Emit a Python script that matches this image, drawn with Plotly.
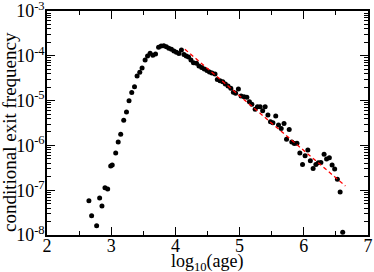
import plotly.graph_objects as go

# log10(age) bin centres
log_age = [2.653, 2.695, 2.773, 2.820, 2.856, 2.903, 2.945, 2.992, 3.016, 3.070,
           3.109, 3.148, 3.195, 3.238, 3.278, 3.320, 3.363, 3.403, 3.445, 3.481,
           3.528, 3.566, 3.606, 3.648, 3.691, 3.738, 3.778, 3.820, 3.859, 3.898,
           3.938, 3.977, 4.016, 4.055, 4.094, 4.133, 4.169, 4.205, 4.242, 4.281,
           4.328, 4.367, 4.409, 4.450, 4.492, 4.531, 4.570, 4.617, 4.653, 4.695,
           4.738, 4.778, 4.820, 4.863, 4.903, 4.938, 4.981, 5.023, 5.070, 5.113,
           5.153, 5.191, 5.242, 5.278, 5.320, 5.359, 5.398, 5.441, 5.481, 5.519,
           5.563, 5.606, 5.648, 5.692, 5.731, 5.773, 5.813, 5.852, 5.894, 5.938,
           5.980, 6.020, 6.063, 6.102, 6.145, 6.188, 6.227, 6.266, 6.316, 6.355,
           6.398, 6.441, 6.481, 6.523, 6.566, 6.606]

exit_freq = [5.83e-8, 2.70e-8, 1.61e-8, 6.70e-8, 4.44e-8, 1.14e-7, 1.06e-7, 3.47e-7, 3.65e-7, 6.76e-7,
             1.19e-6, 1.77e-6, 3.63e-6, 5.57e-6, 9.95e-6, 1.52e-5, 2.04e-5, 3.54e-5, 4.28e-5, 5.34e-5,
             8.05e-5, 9.90e-5, 1.14e-4, 1.03e-4, 1.10e-4, 1.55e-4, 1.66e-4, 1.68e-4, 1.60e-4, 1.47e-4,
             1.40e-4, 1.28e-4, 1.20e-4, 1.13e-4, 1.35e-4, 1.07e-4, 9.90e-5, 9.40e-5, 8.05e-5, 7.02e-5,
             6.81e-5, 5.92e-5, 5.48e-5, 5.07e-5, 4.70e-5, 4.35e-5, 4.13e-5, 3.93e-5, 2.96e-5, 2.78e-5,
             2.64e-5, 2.35e-5, 2.12e-5, 1.88e-5, 1.53e-5, 1.46e-5, 1.82e-5, 1.27e-5, 1.22e-5, 1.19e-5,
             9.45e-6, 8.26e-6, 6.40e-6, 7.31e-6, 7.31e-6, 5.95e-6, 7.31e-6, 4.77e-6, 3.38e-6, 3.21e-6,
             4.53e-6, 2.85e-6, 2.38e-6, 3.08e-6, 1.37e-6, 2.26e-6, 1.19e-6, 1.10e-6, 1.11e-6, 6.76e-7,
             3.75e-7, 5.89e-7, 7.89e-7, 4.55e-7, 3.05e-7, 3.75e-7, 4.11e-7, 4.15e-7, 6.32e-7, 4.97e-7,
             5.28e-7, 3.65e-7, 2.97e-7, 1.75e-7, 9.12e-8, 1.15e-8]

# power-law fit: log10(freq) = fit_intercept + fit_slope * log10(age)
fit_slope = -1.22
fit_intercept = 1.206
fit_range = [4.148, 6.648]

# tick labels and axis titles
x_ticks = [2, 3, 4, 5, 6, 7]
x_tick_labels = ["2", "3", "4", "5", "6", "7"]
y_exponents = [-8, -7, -6, -5, -4, -3]
y_tick_labels = ["10<sup>-8</sup>", "10<sup>-7</sup>", "10<sup>-6</sup>",
                 "10<sup>-5</sup>", "10<sup>-4</sup>", "10<sup>-3</sup>"]
x_title = "log<sub>10</sub>(age)"
y_title = "conditional exit frequency"

fit_x = fit_range
fit_y = [10 ** (fit_intercept + fit_slope * x) for x in fit_x]

y_tick_vals = [10.0 ** e for e in y_exponents]
y_minor_vals = [m * 10.0 ** e for e in y_exponents[:-1] for m in range(2, 10)]
x_minor_vals = [x + 0.5 for x in x_ticks[:-1]]

FONT = "Liberation Serif"
W, H = 374, 272
ML, MR, MT, MB = 47, 6, 11, 37
PW, PH = W - ML - MR, H - MT - MB

fig = go.Figure()
fig.add_trace(go.Scatter(
    x=log_age, y=exit_freq, mode="markers",
    marker=dict(color="black", size=5, line=dict(width=0)),
    showlegend=False, cliponaxis=False,
))
fig.add_trace(go.Scatter(
    x=fit_x, y=fit_y, mode="lines",
    line=dict(color="#ff0000", width=1.3, dash="4px,3px"),
    showlegend=False,
))

fig.update_layout(
    width=W, height=H,
    margin=dict(l=ML, r=MR, t=MT, b=MB, autoexpand=False),
    paper_bgcolor="white", plot_bgcolor="white",
    font=dict(family=FONT, size=18, color="black"),
    annotations=[
        dict(text=x_title, xref="paper", yref="paper",
             x=(208 - ML) / PW, y=-(250 - (MT + PH)) / PH,
             xanchor="center", yanchor="top", showarrow=False, borderpad=0,
             font=dict(family=FONT, size=18)),
        dict(text=y_title, xref="paper", yref="paper", textangle=-90,
             x=(9 - ML) / PW, y=(MT + PH - 132) / PH,
             xanchor="center", yanchor="middle", showarrow=False, borderpad=0,
             font=dict(family=FONT, size=19)),
    ],
)
fig.update_xaxes(
    range=[2, 7], tickmode="array", tickvals=x_ticks, ticktext=x_tick_labels,
    automargin=False, ticklabeloverflow="allow", ticklabelstandoff=-6,
    showgrid=False, zeroline=False,
    showline=True, linecolor="black", linewidth=1.5, mirror="allticks",
    ticks="inside", ticklen=8, tickwidth=1, tickcolor="black",
    minor=dict(ticks="inside", ticklen=4, tickmode="array", tickvals=x_minor_vals,
               tickcolor="black", showgrid=False),
    tickfont=dict(family=FONT, size=18),
)
fig.update_yaxes(
    type="log", range=[-8, -3], tickmode="array", tickvals=y_tick_vals, ticktext=y_tick_labels,
    automargin=False, ticklabeloverflow="allow", ticklabelstandoff=-3,
    showgrid=False, zeroline=False,
    showline=True, linecolor="black", linewidth=1.5, mirror="allticks",
    ticks="inside", ticklen=8, tickwidth=1, tickcolor="black",
    minor=dict(ticks="inside", ticklen=4, tickmode="array", tickvals=y_minor_vals,
               tickcolor="black", showgrid=False),
    tickfont=dict(family=FONT, size=18),
)

fig.write_html("out.html", config={"displayModeBar": False},
               post_script="document.body.style.margin='0px';")
